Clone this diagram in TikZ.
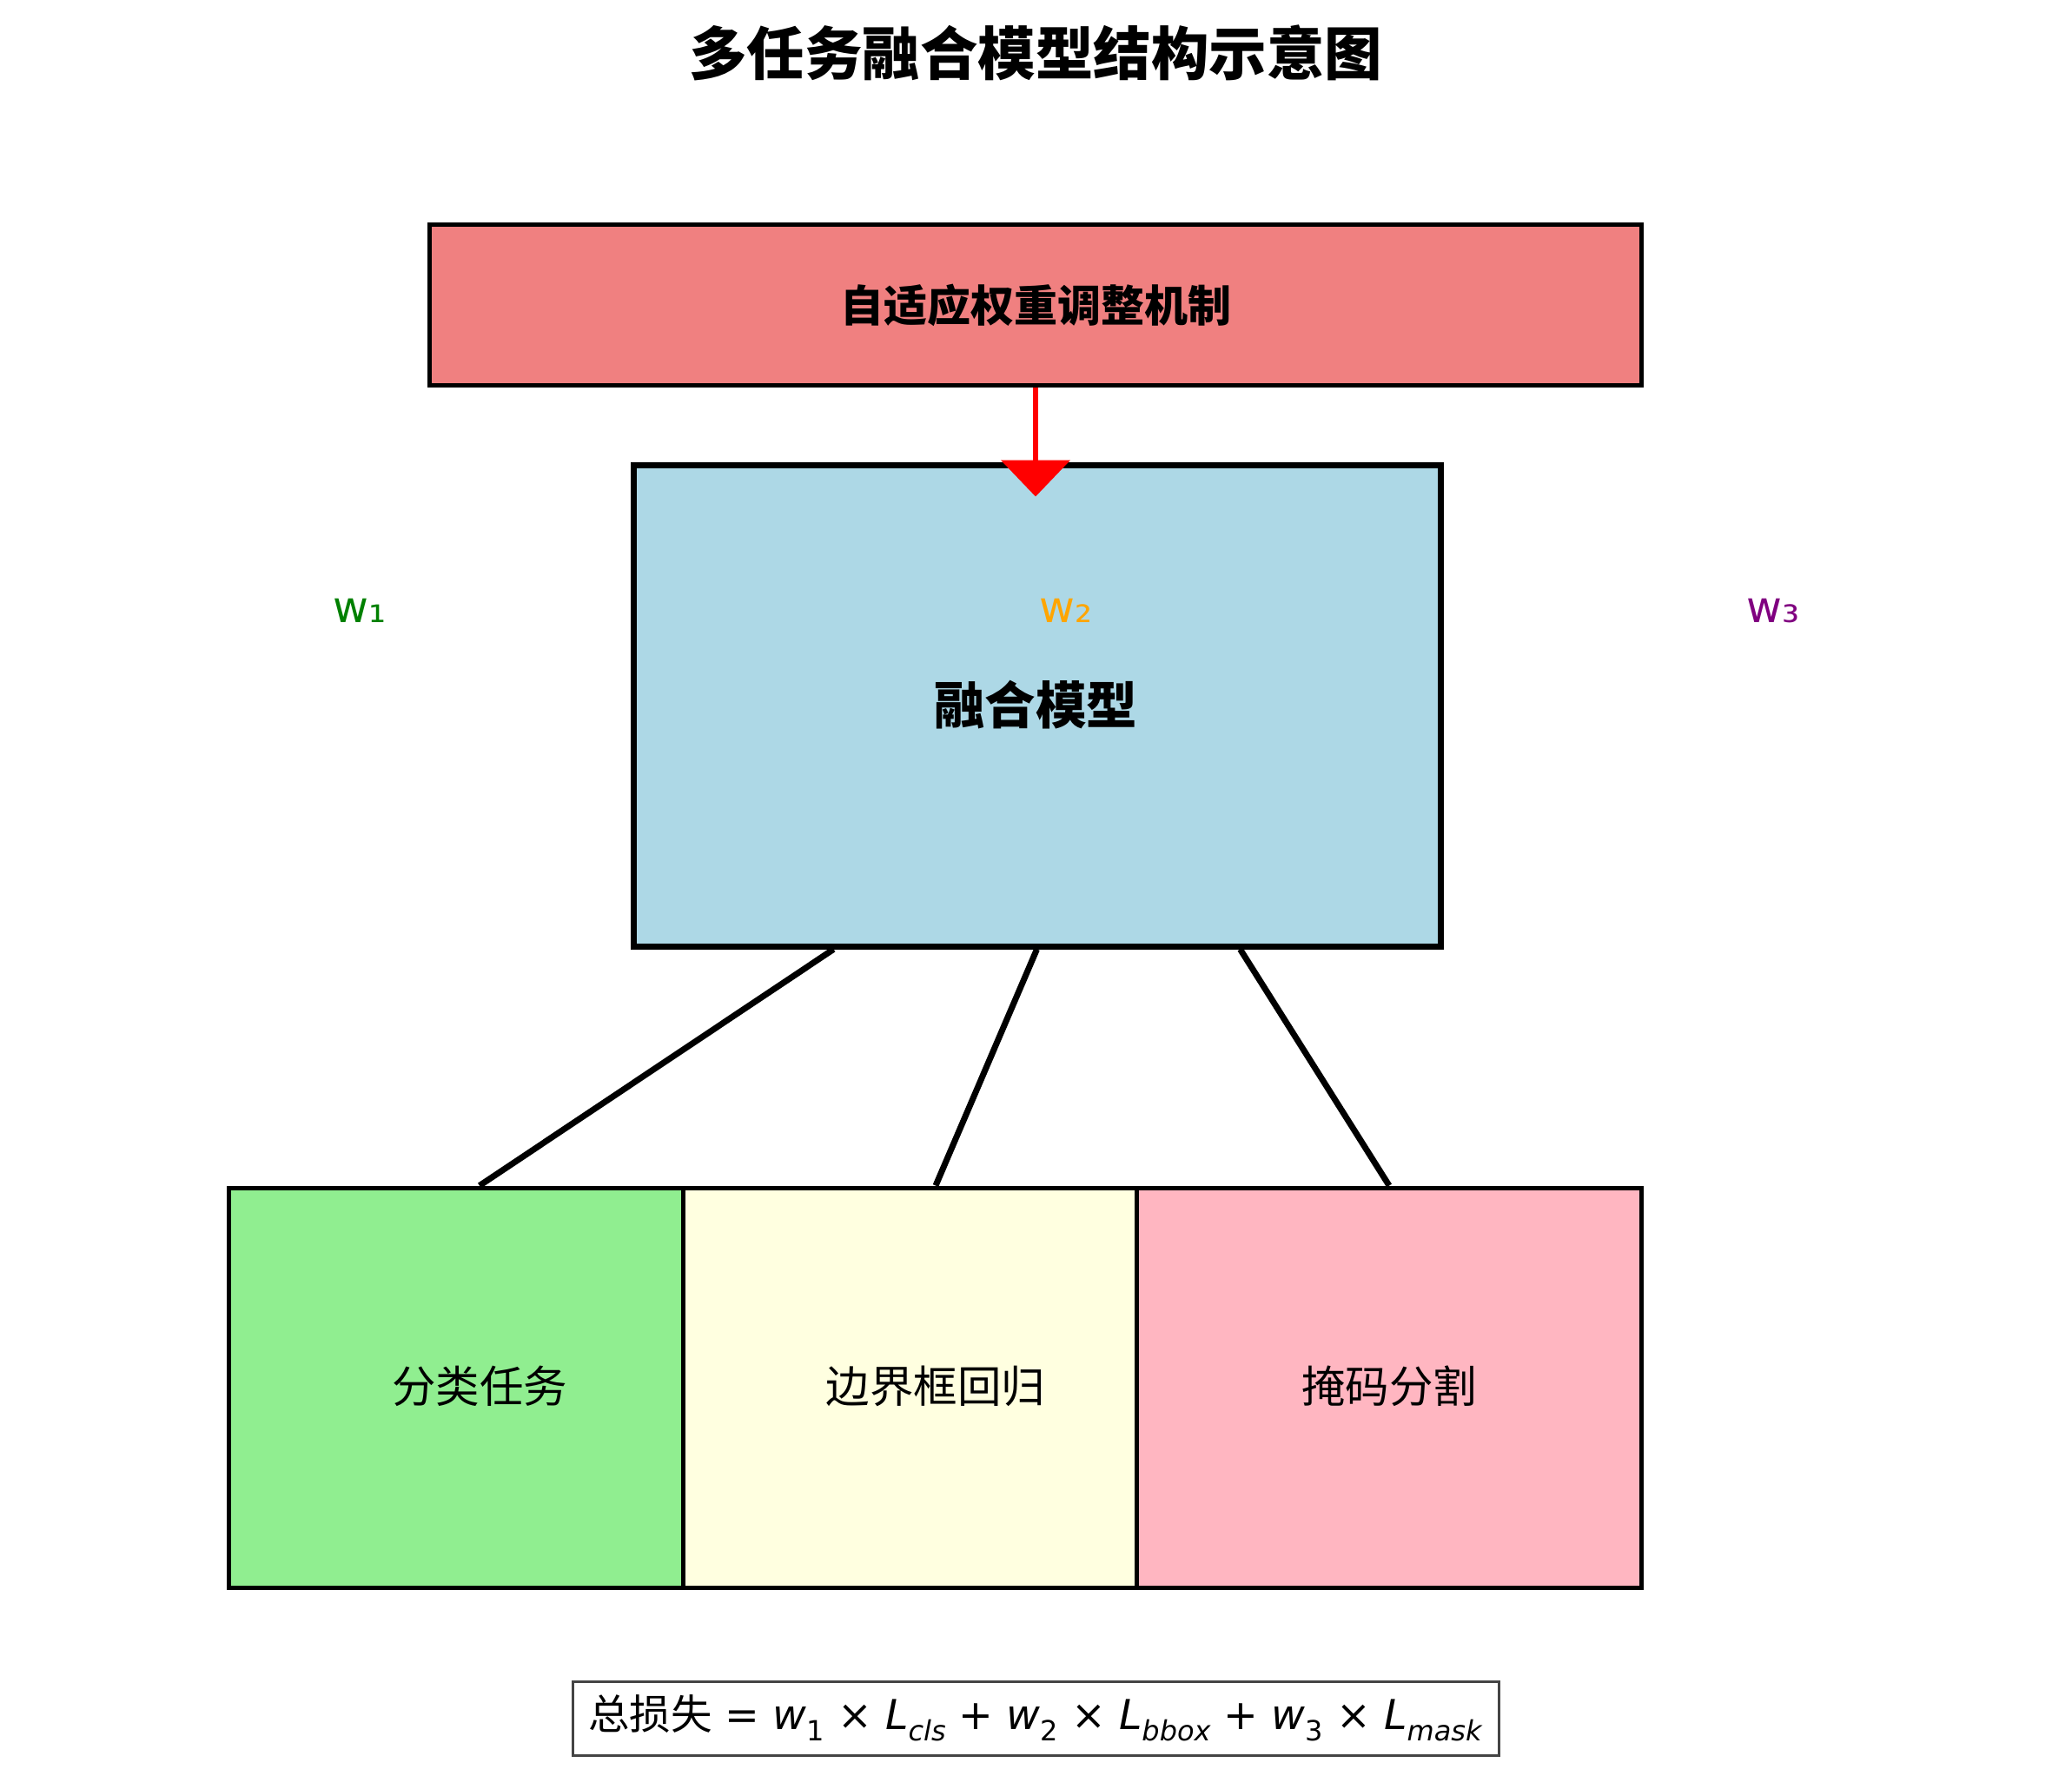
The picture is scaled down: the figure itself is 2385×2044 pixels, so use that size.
\documentclass[tikz,border=0pt]{standalone}
\usepackage{fontspec}
\setmainfont{DejaVu Sans}
\newfontfamily\cjk{Noto Sans CJK SC}
\usetikzlibrary{arrows.meta,calc}
\newcommand\mysb[1]{\raisebox{-0.28em}{\fontsize{32}{32}\selectfont #1}}
\definecolor{lcoral}{HTML}{F08080}
\definecolor{lblue}{HTML}{ADD8E6}
\definecolor{lgreen}{HTML}{90EE90}
\definecolor{lyellow}{HTML}{FFFFE0}
\definecolor{lpink}{HTML}{FFB6C1}
\definecolor{wgreen}{HTML}{008000}
\definecolor{worange}{HTML}{FFA500}
\definecolor{wpurple}{HTML}{800080}
\definecolor{fgray}{HTML}{444444}
\tikzset{
  panel/.style={draw=black, line width=5pt, inner sep=0pt, anchor=center},
  link/.style={draw=black, line width=7pt},
  tasktext/.style={font=\cjk\fontsize{50.5}{50.5}\selectfont, anchor=center},
  wlabel/.style={font=\fontsize{50}{50}\selectfont, anchor=center},
}
\begin{document}
\begin{tikzpicture}[x=1pt,y=-1pt]
\useasboundingbox (0,0) rectangle (2385,2044);
% title
\node[font=\cjk\bfseries\fontsize{66.5}{66.5}\selectfont] (title) at (1192,61) {多任务融合模型结构示意图};
% adaptive weight box
\node[panel, fill=lcoral, minimum width=1395pt, minimum height=184pt,
      font=\cjk\bfseries\fontsize{50}{50}\selectfont] (adapt) at (1192,351) {自适应权重调整机制};
% fused model
\node[panel, fill=lblue, line width=7pt, minimum width=929pt, minimum height=554pt] (fused) at (1193.5,812) {};
\node[font=\cjk\bfseries\fontsize{58.5}{58.5}\selectfont] (fusedtext) at (1192,811) {融合模型};
% weight labels
\node[wlabel, text=wgreen] (w1) at (414,703) {w₁};
\node[wlabel, text=worange] (w2) at (1227,703) {w₂};
\node[wlabel, text=wpurple] (w3) at (2041,703) {w₃};
% task boxes
\node[panel, fill=lgreen, minimum width=523pt, minimum height=460pt] (clsbox) at (524.5,1597) {};
\node[panel, fill=lyellow, minimum width=522pt, minimum height=460pt] (bboxbox) at (1047,1597) {};
\node[panel, fill=lpink, minimum width=581pt, minimum height=460pt] (maskbox) at (1598.5,1597) {};
\node[tasktext] (clstext) at (552,1595) {分类任务};
\node[tasktext] (bboxtext) at (1077,1595) {边界框回归};
\node[tasktext] (masktext) at (1599,1595) {掩码分割};
% connectors
\draw[link] ($(fused.south west)!0.25!(fused.south east)$) -- (clsbox.north -| clstext);
\draw[link] (fused.south) -- (bboxbox.north -| bboxtext);
\draw[link] ($(fused.south west)!0.75!(fused.south east)$) -- (maskbox.north -| masktext);
% red arrow
\coordinate (tip) at ($(adapt.south |- fused.north)+(0,40)$);
\draw[draw=red, line width=6pt, -{Triangle[length=42pt,width=79pt]}, red] (adapt.south) -- (tip);
% formula
\node[draw=fgray, line width=3pt, fill=white, minimum width=1066pt, minimum height=85pt,
      font=\fontsize{47.5}{47.5}\selectfont] (formula) at (1192,1977.5)
  {{\cjk 总损失} = \textit{w}\mysb{1} × \textit{L}\mysb{\textit{cls}} + \textit{w}\mysb{2} × \textit{L}\mysb{\textit{bbox}} + \textit{w}\mysb{3} × \textit{L}\mysb{\textit{mask}}};
\end{tikzpicture}
\end{document}
